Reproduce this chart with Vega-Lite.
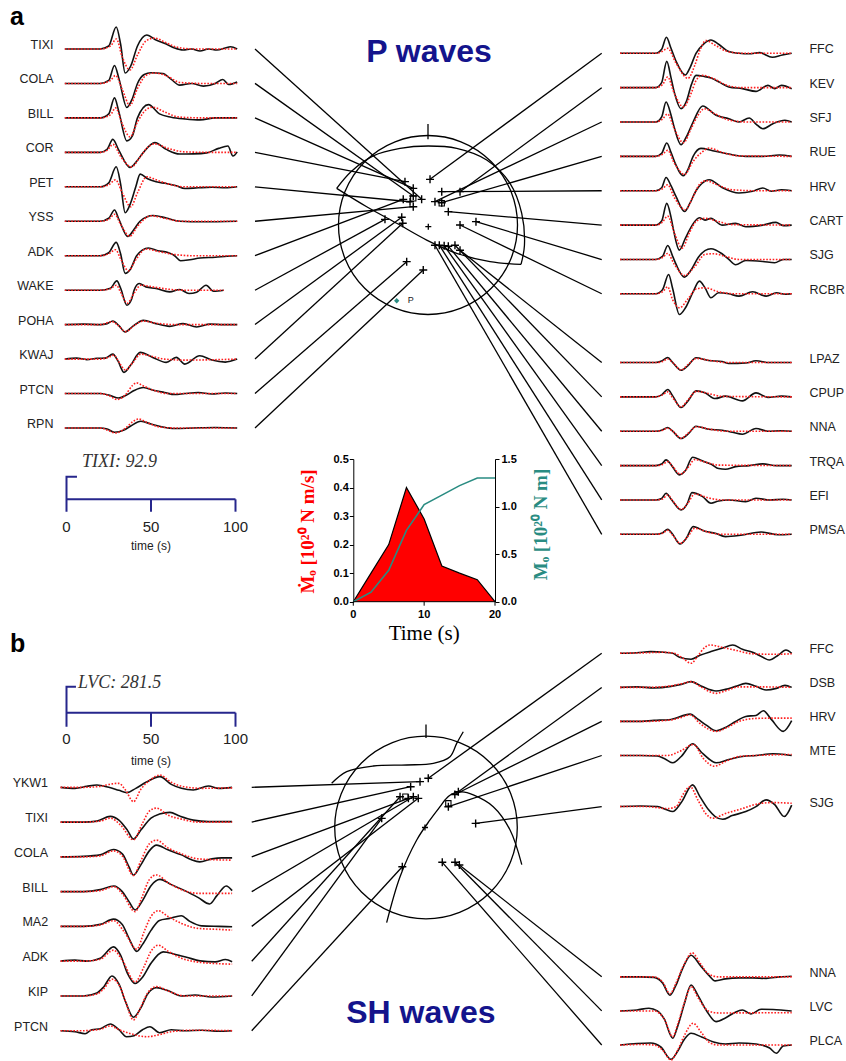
{
"$schema":"https://vega.github.io/schema/vega-lite/v6.json",
"width":846,"height":1061,"padding":0,"autosize":{"type":"none"},"background":"#ffffff",
"config":{"view":{"stroke":null},"axis":{"grid":false}},
"datasets":{
"aLo":[
{"s":"TIXI","t":-1,"a":0},{"s":"TIXI","t":20,"a":0},{"s":"TIXI","t":25,"a":0.3},{"s":"TIXI","t":29.4,"a":2.2},{"s":"TIXI","t":32,"a":0.5},{"s":"TIXI","t":34.7,"a":-2.4},{"s":"TIXI","t":38,"a":-1.7},{"s":"TIXI","t":42,"a":0.3},{"s":"TIXI","t":47.5,"a":1.4},{"s":"TIXI","t":53,"a":0.9},{"s":"TIXI","t":59,"a":0.5},{"s":"TIXI","t":64,"a":0.1},{"s":"TIXI","t":69,"a":-0.1},{"s":"TIXI","t":74,"a":0},{"s":"TIXI","t":79,"a":-0.2},{"s":"TIXI","t":84,"a":0},{"s":"TIXI","t":89,"a":-0.1},{"s":"TIXI","t":94,"a":0.1},{"s":"TIXI","t":97,"a":0.23},{"s":"TIXI","t":101,"a":0},
{"s":"COLA","t":-1,"a":0},{"s":"COLA","t":20,"a":0},{"s":"COLA","t":25,"a":0.3},{"s":"COLA","t":28.4,"a":1.8},{"s":"COLA","t":31,"a":0.5},{"s":"COLA","t":35.7,"a":-2.4},{"s":"COLA","t":39,"a":-1.5},{"s":"COLA","t":42,"a":0},{"s":"COLA","t":46,"a":0.9},{"s":"COLA","t":50,"a":1.07},{"s":"COLA","t":57,"a":1.0},{"s":"COLA","t":62,"a":0.4},{"s":"COLA","t":67,"a":-0.17},{"s":"COLA","t":74,"a":0},{"s":"COLA","t":81,"a":-0.27},{"s":"COLA","t":88,"a":0},{"s":"COLA","t":92.5,"a":0.4},{"s":"COLA","t":96,"a":-0.1},{"s":"COLA","t":101,"a":0.15},
{"s":"BILL","t":-1,"a":0},{"s":"BILL","t":20,"a":0},{"s":"BILL","t":25,"a":0.4},{"s":"BILL","t":28.4,"a":2.0},{"s":"BILL","t":31,"a":0.6},{"s":"BILL","t":35.7,"a":-2.3},{"s":"BILL","t":39,"a":-1.8},{"s":"BILL","t":42,"a":0},{"s":"BILL","t":48.5,"a":1.33},{"s":"BILL","t":55,"a":0.4},{"s":"BILL","t":62,"a":0.07},{"s":"BILL","t":70,"a":-0.1},{"s":"BILL","t":79,"a":-0.2},{"s":"BILL","t":88,"a":0},{"s":"BILL","t":101,"a":0},
{"s":"COR","t":-1,"a":0},{"s":"COR","t":20,"a":0},{"s":"COR","t":24,"a":0.3},{"s":"COR","t":27.4,"a":1.3},{"s":"COR","t":31,"a":0.2},{"s":"COR","t":37.6,"a":-1.5},{"s":"COR","t":41,"a":-1.0},{"s":"COR","t":45.5,"a":0},{"s":"COR","t":52.3,"a":0.97},{"s":"COR","t":59,"a":0.3},{"s":"COR","t":67,"a":-0.17},{"s":"COR","t":75,"a":-0.15},{"s":"COR","t":83,"a":-0.05},{"s":"COR","t":90,"a":0.4},{"s":"COR","t":95.5,"a":0.63},{"s":"COR","t":98.5,"a":-0.37},{"s":"COR","t":101,"a":0.05},
{"s":"PET","t":-1,"a":0},{"s":"PET","t":20,"a":0},{"s":"PET","t":25,"a":0.4},{"s":"PET","t":29.4,"a":2.0},{"s":"PET","t":32,"a":0.3},{"s":"PET","t":34.7,"a":-2.6},{"s":"PET","t":38,"a":-1.6},{"s":"PET","t":41,"a":0},{"s":"PET","t":43.6,"a":1.27},{"s":"PET","t":48,"a":0.8},{"s":"PET","t":53,"a":0.5},{"s":"PET","t":59,"a":0.33},{"s":"PET","t":65,"a":0.1},{"s":"PET","t":70,"a":-0.17},{"s":"PET","t":78,"a":-0.1},{"s":"PET","t":86,"a":-0.05},{"s":"PET","t":94,"a":-0.1},{"s":"PET","t":101,"a":0},
{"s":"YSS","t":-1,"a":0},{"s":"YSS","t":20,"a":0},{"s":"YSS","t":25,"a":0.3},{"s":"YSS","t":28.4,"a":1.13},{"s":"YSS","t":31,"a":0.2},{"s":"YSS","t":36.3,"a":-1.53},{"s":"YSS","t":40,"a":-0.8},{"s":"YSS","t":43.5,"a":0},{"s":"YSS","t":51.3,"a":0.57},{"s":"YSS","t":59,"a":0.33},{"s":"YSS","t":67,"a":0},{"s":"YSS","t":80,"a":-0.05},{"s":"YSS","t":101,"a":0},
{"s":"ADK","t":-1,"a":0},{"s":"ADK","t":20,"a":0},{"s":"ADK","t":25,"a":0.3},{"s":"ADK","t":29.4,"a":1.33},{"s":"ADK","t":32,"a":0.2},{"s":"ADK","t":34.7,"a":-1.77},{"s":"ADK","t":38,"a":-1.3},{"s":"ADK","t":41.5,"a":0},{"s":"ADK","t":48.5,"a":0.77},{"s":"ADK","t":54,"a":0.5},{"s":"ADK","t":60,"a":0.33},{"s":"ADK","t":64,"a":0},{"s":"ADK","t":67.5,"a":-0.5},{"s":"ADK","t":73,"a":-0.4},{"s":"ADK","t":79,"a":-0.23},{"s":"ADK","t":88,"a":-0.15},{"s":"ADK","t":95,"a":-0.05},{"s":"ADK","t":101,"a":0},
{"s":"WAKE","t":-1,"a":0},{"s":"WAKE","t":20,"a":0},{"s":"WAKE","t":26,"a":0.2},{"s":"WAKE","t":29.8,"a":0.93},{"s":"WAKE","t":32,"a":0.2},{"s":"WAKE","t":35.7,"a":-1.5},{"s":"WAKE","t":38.5,"a":-0.9},{"s":"WAKE","t":40,"a":0},{"s":"WAKE","t":43,"a":0.67},{"s":"WAKE","t":47,"a":0.33},{"s":"WAKE","t":53,"a":0.17},{"s":"WAKE","t":61,"a":-0.17},{"s":"WAKE","t":67,"a":0.07},{"s":"WAKE","t":72.5,"a":-0.33},{"s":"WAKE","t":77,"a":-0.2},{"s":"WAKE","t":82.6,"a":0.5},{"s":"WAKE","t":87,"a":-0.1},{"s":"WAKE","t":93,"a":0},
{"s":"POHA","t":-1,"a":0},{"s":"POHA","t":10,"a":0.05},{"s":"POHA","t":20,"a":0},{"s":"POHA","t":24,"a":0.1},{"s":"POHA","t":27.4,"a":0.37},{"s":"POHA","t":31,"a":-0.1},{"s":"POHA","t":34.7,"a":-0.73},{"s":"POHA","t":39,"a":-0.2},{"s":"POHA","t":45.5,"a":0.43},{"s":"POHA","t":53,"a":0.1},{"s":"POHA","t":61,"a":-0.17},{"s":"POHA","t":69,"a":0.1},{"s":"POHA","t":77,"a":-0.23},{"s":"POHA","t":85,"a":0.05},{"s":"POHA","t":93,"a":0},{"s":"POHA","t":101,"a":0},
{"s":"KWAJ","t":-1,"a":0},{"s":"KWAJ","t":6,"a":0.1},{"s":"KWAJ","t":12,"a":-0.05},{"s":"KWAJ","t":18,"a":0.08},{"s":"KWAJ","t":23,"a":0.1},{"s":"KWAJ","t":27.4,"a":0.5},{"s":"KWAJ","t":30.5,"a":-0.2},{"s":"KWAJ","t":34,"a":-1.33},{"s":"KWAJ","t":38,"a":-0.6},{"s":"KWAJ","t":43.6,"a":0.67},{"s":"KWAJ","t":51,"a":0.17},{"s":"KWAJ","t":59,"a":-0.33},{"s":"KWAJ","t":65,"a":0.17},{"s":"KWAJ","t":70,"a":-0.5},{"s":"KWAJ","t":78.8,"a":0.33},{"s":"KWAJ","t":86,"a":-0.1},{"s":"KWAJ","t":94,"a":-0.3},{"s":"KWAJ","t":101,"a":0},
{"s":"PTCN","t":-1,"a":0},{"s":"PTCN","t":20,"a":0},{"s":"PTCN","t":26,"a":-0.2},{"s":"PTCN","t":30.8,"a":-0.45},{"s":"PTCN","t":36,"a":-0.1},{"s":"PTCN","t":40,"a":0.3},{"s":"PTCN","t":45.5,"a":0.6},{"s":"PTCN","t":52,"a":0.3},{"s":"PTCN","t":58,"a":0.1},{"s":"PTCN","t":64,"a":-0.1},{"s":"PTCN","t":70,"a":0},{"s":"PTCN","t":78,"a":0.1},{"s":"PTCN","t":86,"a":-0.05},{"s":"PTCN","t":94,"a":0.05},{"s":"PTCN","t":101,"a":0},
{"s":"RPN","t":-1,"a":0},{"s":"RPN","t":20,"a":0},{"s":"RPN","t":24,"a":-0.1},{"s":"RPN","t":28.4,"a":-0.43},{"s":"RPN","t":34,"a":-0.2},{"s":"RPN","t":38,"a":0.2},{"s":"RPN","t":44,"a":0.67},{"s":"RPN","t":50,"a":0.4},{"s":"RPN","t":57,"a":0.1},{"s":"RPN","t":64,"a":-0.05},{"s":"RPN","t":75,"a":0},{"s":"RPN","t":88,"a":0.05},{"s":"RPN","t":101,"a":0}
],
"aLs":[
{"s":"TIXI","t":-1,"a":0},{"s":"TIXI","t":20,"a":0},{"s":"TIXI","t":26,"a":0.3},{"s":"TIXI","t":29.5,"a":1.0},{"s":"TIXI","t":33,"a":-0.8},{"s":"TIXI","t":37.6,"a":-2.1},{"s":"TIXI","t":42,"a":-0.6},{"s":"TIXI","t":47,"a":0.8},{"s":"TIXI","t":52,"a":1.1},{"s":"TIXI","t":58,"a":0.7},{"s":"TIXI","t":65,"a":0.2},{"s":"TIXI","t":75,"a":0},{"s":"TIXI","t":101,"a":0},
{"s":"COLA","t":-1,"a":0},{"s":"COLA","t":20,"a":0},{"s":"COLA","t":26,"a":0.3},{"s":"COLA","t":29,"a":0.8},{"s":"COLA","t":33,"a":-0.6},{"s":"COLA","t":37.5,"a":-2.2},{"s":"COLA","t":42,"a":-0.5},{"s":"COLA","t":47,"a":0.8},{"s":"COLA","t":52,"a":1.05},{"s":"COLA","t":60,"a":0.7},{"s":"COLA","t":67,"a":0.1},{"s":"COLA","t":80,"a":0},{"s":"COLA","t":101,"a":0},
{"s":"BILL","t":-1,"a":0},{"s":"BILL","t":20,"a":0},{"s":"BILL","t":26,"a":0.3},{"s":"BILL","t":29,"a":1.0},{"s":"BILL","t":33,"a":-0.6},{"s":"BILL","t":37.6,"a":-1.9},{"s":"BILL","t":42,"a":-0.4},{"s":"BILL","t":47,"a":0.8},{"s":"BILL","t":51,"a":1.07},{"s":"BILL","t":58,"a":0.6},{"s":"BILL","t":66,"a":0.1},{"s":"BILL","t":80,"a":0},{"s":"BILL","t":101,"a":0},
{"s":"COR","t":-1,"a":0},{"s":"COR","t":20,"a":0},{"s":"COR","t":24,"a":0.2},{"s":"COR","t":27.5,"a":0.8},{"s":"COR","t":32,"a":-0.4},{"s":"COR","t":38.5,"a":-1.45},{"s":"COR","t":43,"a":-0.6},{"s":"COR","t":48,"a":0.5},{"s":"COR","t":52,"a":0.85},{"s":"COR","t":60,"a":0.4},{"s":"COR","t":70,"a":0.05},{"s":"COR","t":85,"a":0},{"s":"COR","t":101,"a":0},
{"s":"PET","t":-1,"a":0},{"s":"PET","t":20,"a":0},{"s":"PET","t":25,"a":0.2},{"s":"PET","t":29,"a":0.7},{"s":"PET","t":33,"a":-0.6},{"s":"PET","t":38,"a":-2.0},{"s":"PET","t":42,"a":-0.6},{"s":"PET","t":47.5,"a":1.0},{"s":"PET","t":53,"a":0.7},{"s":"PET","t":60,"a":0.3},{"s":"PET","t":70,"a":0},{"s":"PET","t":101,"a":0},
{"s":"YSS","t":-1,"a":0},{"s":"YSS","t":20,"a":0},{"s":"YSS","t":25,"a":0.2},{"s":"YSS","t":28.5,"a":0.7},{"s":"YSS","t":32,"a":-0.3},{"s":"YSS","t":37.5,"a":-1.5},{"s":"YSS","t":42,"a":-0.5},{"s":"YSS","t":50,"a":0.55},{"s":"YSS","t":58,"a":0.3},{"s":"YSS","t":68,"a":0},{"s":"YSS","t":101,"a":0},
{"s":"ADK","t":-1,"a":0},{"s":"ADK","t":20,"a":0},{"s":"ADK","t":25,"a":0.2},{"s":"ADK","t":29,"a":0.6},{"s":"ADK","t":32,"a":-0.3},{"s":"ADK","t":36.6,"a":-1.5},{"s":"ADK","t":41,"a":-0.4},{"s":"ADK","t":47,"a":0.67},{"s":"ADK","t":55,"a":0.4},{"s":"ADK","t":65,"a":0.1},{"s":"ADK","t":75,"a":0},{"s":"ADK","t":101,"a":0},
{"s":"WAKE","t":-1,"a":0},{"s":"WAKE","t":20,"a":0},{"s":"WAKE","t":26,"a":0.15},{"s":"WAKE","t":29.5,"a":0.5},{"s":"WAKE","t":32,"a":-0.2},{"s":"WAKE","t":36,"a":-1.3},{"s":"WAKE","t":40,"a":-0.3},{"s":"WAKE","t":44,"a":0.5},{"s":"WAKE","t":52,"a":0.3},{"s":"WAKE","t":60,"a":0.1},{"s":"WAKE","t":70,"a":0},{"s":"WAKE","t":93,"a":0},
{"s":"POHA","t":-1,"a":0},{"s":"POHA","t":20,"a":0},{"s":"POHA","t":27,"a":0.3},{"s":"POHA","t":30,"a":0},{"s":"POHA","t":35,"a":-0.7},{"s":"POHA","t":40,"a":-0.1},{"s":"POHA","t":45,"a":0.35},{"s":"POHA","t":55,"a":0.1},{"s":"POHA","t":65,"a":0},{"s":"POHA","t":101,"a":0},
{"s":"KWAJ","t":-1,"a":0},{"s":"KWAJ","t":20,"a":0},{"s":"KWAJ","t":25,"a":0.2},{"s":"KWAJ","t":28,"a":0.4},{"s":"KWAJ","t":31,"a":-0.3},{"s":"KWAJ","t":35,"a":-1.1},{"s":"KWAJ","t":39,"a":-0.4},{"s":"KWAJ","t":44,"a":0.5},{"s":"KWAJ","t":50,"a":0.3},{"s":"KWAJ","t":58,"a":0},{"s":"KWAJ","t":70,"a":-0.1},{"s":"KWAJ","t":101,"a":0},
{"s":"PTCN","t":-1,"a":0},{"s":"PTCN","t":20,"a":0},{"s":"PTCN","t":25,"a":-0.2},{"s":"PTCN","t":30,"a":-0.6},{"s":"PTCN","t":35,"a":-0.1},{"s":"PTCN","t":39,"a":0.8},{"s":"PTCN","t":41.5,"a":1.07},{"s":"PTCN","t":45,"a":0.8},{"s":"PTCN","t":52,"a":0.3},{"s":"PTCN","t":60,"a":0},{"s":"PTCN","t":101,"a":0},
{"s":"RPN","t":-1,"a":0},{"s":"RPN","t":20,"a":0},{"s":"RPN","t":24,"a":-0.2},{"s":"RPN","t":29,"a":-0.5},{"s":"RPN","t":35,"a":0},{"s":"RPN","t":39,"a":0.6},{"s":"RPN","t":42.6,"a":0.9},{"s":"RPN","t":47,"a":0.6},{"s":"RPN","t":55,"a":0.1},{"s":"RPN","t":65,"a":0},{"s":"RPN","t":101,"a":0}
],
"aRo":[
{"s":"FFC","t":0,"a":0},{"s":"FFC","t":21,"a":0},{"s":"FFC","t":24.5,"a":0.4},{"s":"FFC","t":27.3,"a":1.6},{"s":"FFC","t":30,"a":0.5},{"s":"FFC","t":33,"a":-0.8},{"s":"FFC","t":38.4,"a":-2.17},{"s":"FFC","t":41,"a":-1.5},{"s":"FFC","t":44.7,"a":0},{"s":"FFC","t":49,"a":0.9},{"s":"FFC","t":53.5,"a":1.33},{"s":"FFC","t":58,"a":0.9},{"s":"FFC","t":64,"a":0.17},{"s":"FFC","t":70,"a":0},{"s":"FFC","t":76,"a":-0.05},{"s":"FFC","t":82,"a":0.07},{"s":"FFC","t":89.6,"a":-0.4},{"s":"FFC","t":95.5,"a":-0.17},{"s":"FFC","t":101,"a":0},
{"s":"KEV","t":0,"a":0},{"s":"KEV","t":21,"a":0},{"s":"KEV","t":24.5,"a":0.5},{"s":"KEV","t":27.5,"a":2.63},{"s":"KEV","t":30,"a":1.0},{"s":"KEV","t":32,"a":-0.5},{"s":"KEV","t":35.9,"a":-2.1},{"s":"KEV","t":39,"a":-1.4},{"s":"KEV","t":42,"a":0.3},{"s":"KEV","t":44.7,"a":1.23},{"s":"KEV","t":50,"a":1.1},{"s":"KEV","t":53.5,"a":0.97},{"s":"KEV","t":59,"a":0.5},{"s":"KEV","t":64,"a":0.07},{"s":"KEV","t":72,"a":-0.1},{"s":"KEV","t":80,"a":-0.37},{"s":"KEV","t":87,"a":0.23},{"s":"KEV","t":91,"a":-0.1},{"s":"KEV","t":95,"a":0.23},{"s":"KEV","t":101,"a":-0.1},
{"s":"SFJ","t":0,"a":0},{"s":"SFJ","t":21,"a":0},{"s":"SFJ","t":24.5,"a":0.5},{"s":"SFJ","t":27.1,"a":2.0},{"s":"SFJ","t":30,"a":0.7},{"s":"SFJ","t":32,"a":-0.6},{"s":"SFJ","t":35.9,"a":-2.27},{"s":"SFJ","t":39,"a":-1.5},{"s":"SFJ","t":43,"a":0},{"s":"SFJ","t":48.6,"a":1.6},{"s":"SFJ","t":56.5,"a":0.67},{"s":"SFJ","t":64,"a":0.33},{"s":"SFJ","t":70,"a":0},{"s":"SFJ","t":76,"a":0.4},{"s":"SFJ","t":80,"a":-0.2},{"s":"SFJ","t":84,"a":-0.67},{"s":"SFJ","t":90,"a":-0.17},{"s":"SFJ","t":97,"a":0.17},{"s":"SFJ","t":101,"a":0},
{"s":"RUE","t":0,"a":0},{"s":"RUE","t":21,"a":0},{"s":"RUE","t":24.5,"a":0.3},{"s":"RUE","t":27.5,"a":1.33},{"s":"RUE","t":30,"a":0.4},{"s":"RUE","t":32,"a":-0.5},{"s":"RUE","t":37.3,"a":-1.93},{"s":"RUE","t":40,"a":-1.3},{"s":"RUE","t":43,"a":0},{"s":"RUE","t":47.6,"a":0.8},{"s":"RUE","t":54.5,"a":0.57},{"s":"RUE","t":64,"a":0.23},{"s":"RUE","t":74,"a":0},{"s":"RUE","t":84,"a":0},{"s":"RUE","t":93.7,"a":0.13},{"s":"RUE","t":101,"a":0},
{"s":"HRV","t":0,"a":0},{"s":"HRV","t":21,"a":0},{"s":"HRV","t":24.5,"a":0.3},{"s":"HRV","t":27.1,"a":1.33},{"s":"HRV","t":30,"a":0.5},{"s":"HRV","t":33,"a":-0.6},{"s":"HRV","t":38,"a":-2.07},{"s":"HRV","t":41,"a":-1.3},{"s":"HRV","t":44.7,"a":0},{"s":"HRV","t":48,"a":0.7},{"s":"HRV","t":52.5,"a":1.1},{"s":"HRV","t":60,"a":0.33},{"s":"HRV","t":70,"a":-0.23},{"s":"HRV","t":78,"a":-0.05},{"s":"HRV","t":84,"a":0.27},{"s":"HRV","t":89,"a":-0.05},{"s":"HRV","t":95,"a":0.1},{"s":"HRV","t":101,"a":0},
{"s":"CART","t":0,"a":0},{"s":"CART","t":21,"a":0},{"s":"CART","t":24.5,"a":0.4},{"s":"CART","t":27.5,"a":2.17},{"s":"CART","t":30,"a":0.8},{"s":"CART","t":31.5,"a":-0.5},{"s":"CART","t":34.9,"a":-2.5},{"s":"CART","t":38.5,"a":-1.3},{"s":"CART","t":42.5,"a":0},{"s":"CART","t":46.7,"a":0.73},{"s":"CART","t":50,"a":0.5},{"s":"CART","t":53.5,"a":0.67},{"s":"CART","t":60,"a":0},{"s":"CART","t":68,"a":0.17},{"s":"CART","t":74,"a":-0.17},{"s":"CART","t":84,"a":0},{"s":"CART","t":91.7,"a":0.27},{"s":"CART","t":96,"a":-0.05},{"s":"CART","t":101,"a":0},
{"s":"SJG","t":0,"a":0},{"s":"SJG","t":21,"a":0},{"s":"SJG","t":25,"a":0.3},{"s":"SJG","t":28.1,"a":1.4},{"s":"SJG","t":31,"a":0.3},{"s":"SJG","t":33,"a":-0.5},{"s":"SJG","t":37.8,"a":-1.77},{"s":"SJG","t":42,"a":-1.0},{"s":"SJG","t":46,"a":0.2},{"s":"SJG","t":53.5,"a":1.07},{"s":"SJG","t":60,"a":0.57},{"s":"SJG","t":64,"a":0},{"s":"SJG","t":68,"a":-0.53},{"s":"SJG","t":74,"a":-0.1},{"s":"SJG","t":84,"a":-0.2},{"s":"SJG","t":91,"a":-0.33},{"s":"SJG","t":96,"a":0},{"s":"SJG","t":101,"a":0},
{"s":"RCBR","t":0,"a":0},{"s":"RCBR","t":21,"a":0},{"s":"RCBR","t":25,"a":0.4},{"s":"RCBR","t":28.6,"a":1.93},{"s":"RCBR","t":31,"a":0.5},{"s":"RCBR","t":34.9,"a":-2.07},{"s":"RCBR","t":38.5,"a":-1.4},{"s":"RCBR","t":43,"a":0.2},{"s":"RCBR","t":46.7,"a":1.27},{"s":"RCBR","t":50,"a":0.6},{"s":"RCBR","t":53.5,"a":-0.4},{"s":"RCBR","t":58,"a":0.1},{"s":"RCBR","t":64,"a":0},{"s":"RCBR","t":70,"a":-0.23},{"s":"RCBR","t":78,"a":0.2},{"s":"RCBR","t":86,"a":-0.23},{"s":"RCBR","t":92,"a":0.1},{"s":"RCBR","t":97,"a":-0.05},{"s":"RCBR","t":101,"a":0},
{"s":"LPAZ","t":0,"a":0},{"s":"LPAZ","t":21,"a":0},{"s":"LPAZ","t":24.5,"a":0.15},{"s":"LPAZ","t":28.1,"a":0.5},{"s":"LPAZ","t":31,"a":0},{"s":"LPAZ","t":35.9,"a":-0.77},{"s":"LPAZ","t":40,"a":-0.3},{"s":"LPAZ","t":44.7,"a":0.47},{"s":"LPAZ","t":52,"a":0.2},{"s":"LPAZ","t":60,"a":0.1},{"s":"LPAZ","t":64,"a":-0.1},{"s":"LPAZ","t":74,"a":-0.05},{"s":"LPAZ","t":80,"a":0.17},{"s":"LPAZ","t":88,"a":0},{"s":"LPAZ","t":101,"a":0},
{"s":"CPUP","t":0,"a":0},{"s":"CPUP","t":21,"a":0},{"s":"CPUP","t":24.5,"a":0.2},{"s":"CPUP","t":28.1,"a":0.73},{"s":"CPUP","t":31,"a":0.1},{"s":"CPUP","t":35.9,"a":-1.07},{"s":"CPUP","t":40,"a":-0.4},{"s":"CPUP","t":44.7,"a":0.6},{"s":"CPUP","t":50,"a":0.4},{"s":"CPUP","t":56,"a":-0.17},{"s":"CPUP","t":62,"a":0.07},{"s":"CPUP","t":72,"a":-0.4},{"s":"CPUP","t":80,"a":0.4},{"s":"CPUP","t":87,"a":-0.05},{"s":"CPUP","t":95,"a":0.07},{"s":"CPUP","t":101,"a":0},
{"s":"NNA","t":0,"a":0},{"s":"NNA","t":21,"a":0},{"s":"NNA","t":24.5,"a":0.1},{"s":"NNA","t":28.1,"a":0.37},{"s":"NNA","t":31,"a":0},{"s":"NNA","t":35.9,"a":-0.73},{"s":"NNA","t":40,"a":-0.3},{"s":"NNA","t":44.7,"a":0.5},{"s":"NNA","t":52,"a":0.2},{"s":"NNA","t":60,"a":0.1},{"s":"NNA","t":66,"a":-0.1},{"s":"NNA","t":72,"a":-0.3},{"s":"NNA","t":80,"a":0.27},{"s":"NNA","t":87,"a":0},{"s":"NNA","t":95,"a":0.05},{"s":"NNA","t":101,"a":0},
{"s":"TRQA","t":0,"a":0},{"s":"TRQA","t":21,"a":0},{"s":"TRQA","t":24.5,"a":0.15},{"s":"TRQA","t":27.1,"a":0.57},{"s":"TRQA","t":30,"a":0.1},{"s":"TRQA","t":34.9,"a":-0.93},{"s":"TRQA","t":38.5,"a":-0.5},{"s":"TRQA","t":42.7,"a":0.83},{"s":"TRQA","t":48,"a":0.5},{"s":"TRQA","t":54,"a":0.1},{"s":"TRQA","t":58,"a":-0.3},{"s":"TRQA","t":62,"a":-0.37},{"s":"TRQA","t":68,"a":-0.1},{"s":"TRQA","t":76,"a":0},{"s":"TRQA","t":84,"a":0.17},{"s":"TRQA","t":92,"a":0},{"s":"TRQA","t":101,"a":0},
{"s":"EFI","t":0,"a":0},{"s":"EFI","t":21,"a":0},{"s":"EFI","t":24.5,"a":0.15},{"s":"EFI","t":27.1,"a":0.67},{"s":"EFI","t":30,"a":0.1},{"s":"EFI","t":35.9,"a":-1.0},{"s":"EFI","t":39.5,"a":-0.4},{"s":"EFI","t":42.3,"a":0.73},{"s":"EFI","t":48.6,"a":0.33},{"s":"EFI","t":53.5,"a":-0.33},{"s":"EFI","t":58,"a":-0.1},{"s":"EFI","t":64,"a":0},{"s":"EFI","t":74,"a":-0.17},{"s":"EFI","t":80,"a":0.17},{"s":"EFI","t":88,"a":0},{"s":"EFI","t":96,"a":0.07},{"s":"EFI","t":101,"a":0},
{"s":"PMSA","t":0,"a":0},{"s":"PMSA","t":21,"a":0},{"s":"PMSA","t":24.5,"a":0.1},{"s":"PMSA","t":28.1,"a":0.5},{"s":"PMSA","t":31,"a":0},{"s":"PMSA","t":35.3,"a":-0.97},{"s":"PMSA","t":39,"a":-0.4},{"s":"PMSA","t":43,"a":0.77},{"s":"PMSA","t":50,"a":0.3},{"s":"PMSA","t":56,"a":0.1},{"s":"PMSA","t":62,"a":-0.23},{"s":"PMSA","t":71,"a":-0.1},{"s":"PMSA","t":83,"a":0.23},{"s":"PMSA","t":93,"a":-0.05},{"s":"PMSA","t":101,"a":0}
],
"aRs":[
{"s":"FFC","t":0,"a":0},{"s":"FFC","t":21,"a":0},{"s":"FFC","t":25,"a":0.2},{"s":"FFC","t":28,"a":0.5},{"s":"FFC","t":33,"a":-1.0},{"s":"FFC","t":40,"a":-2.5},{"s":"FFC","t":44,"a":-1.2},{"s":"FFC","t":47,"a":0.3},{"s":"FFC","t":50.6,"a":1.27},{"s":"FFC","t":56,"a":0.8},{"s":"FFC","t":63,"a":0.2},{"s":"FFC","t":72,"a":0},{"s":"FFC","t":101,"a":0},
{"s":"KEV","t":0,"a":0},{"s":"KEV","t":21,"a":0},{"s":"KEV","t":25,"a":0.3},{"s":"KEV","t":28,"a":1.07},{"s":"KEV","t":32,"a":-0.6},{"s":"KEV","t":37.3,"a":-1.93},{"s":"KEV","t":42,"a":-0.5},{"s":"KEV","t":45,"a":0.8},{"s":"KEV","t":48.6,"a":1.23},{"s":"KEV","t":55,"a":0.9},{"s":"KEV","t":62,"a":0.3},{"s":"KEV","t":72,"a":0},{"s":"KEV","t":101,"a":0},
{"s":"SFJ","t":0,"a":0},{"s":"SFJ","t":21,"a":0},{"s":"SFJ","t":25,"a":0.3},{"s":"SFJ","t":28,"a":0.8},{"s":"SFJ","t":32,"a":-0.7},{"s":"SFJ","t":37.3,"a":-2.07},{"s":"SFJ","t":42,"a":-0.6},{"s":"SFJ","t":46,"a":0.7},{"s":"SFJ","t":49.6,"a":1.33},{"s":"SFJ","t":56,"a":0.8},{"s":"SFJ","t":64,"a":0.2},{"s":"SFJ","t":75,"a":0},{"s":"SFJ","t":101,"a":0},
{"s":"RUE","t":0,"a":0},{"s":"RUE","t":21,"a":0},{"s":"RUE","t":25,"a":0.2},{"s":"RUE","t":28,"a":0.6},{"s":"RUE","t":32,"a":-0.7},{"s":"RUE","t":38,"a":-1.8},{"s":"RUE","t":43,"a":-0.5},{"s":"RUE","t":48,"a":0.4},{"s":"RUE","t":52.5,"a":0.83},{"s":"RUE","t":60,"a":0.4},{"s":"RUE","t":70,"a":0.05},{"s":"RUE","t":101,"a":0},
{"s":"HRV","t":0,"a":0},{"s":"HRV","t":21,"a":0},{"s":"HRV","t":25,"a":0.2},{"s":"HRV","t":28,"a":0.6},{"s":"HRV","t":32,"a":-0.7},{"s":"HRV","t":38.5,"a":-1.9},{"s":"HRV","t":43,"a":-0.6},{"s":"HRV","t":47,"a":0.7},{"s":"HRV","t":50.6,"a":1.0},{"s":"HRV","t":57,"a":0.6},{"s":"HRV","t":66,"a":0.1},{"s":"HRV","t":80,"a":0},{"s":"HRV","t":101,"a":0},
{"s":"CART","t":0,"a":0},{"s":"CART","t":21,"a":0},{"s":"CART","t":25,"a":0.3},{"s":"CART","t":28,"a":0.9},{"s":"CART","t":32,"a":-0.8},{"s":"CART","t":36.5,"a":-2.3},{"s":"CART","t":41,"a":-0.7},{"s":"CART","t":45,"a":0.4},{"s":"CART","t":50,"a":0.67},{"s":"CART","t":57,"a":0.4},{"s":"CART","t":66,"a":0.05},{"s":"CART","t":101,"a":0},
{"s":"SJG","t":0,"a":0},{"s":"SJG","t":21,"a":0},{"s":"SJG","t":25,"a":0.2},{"s":"SJG","t":28,"a":0.6},{"s":"SJG","t":32,"a":-0.5},{"s":"SJG","t":38,"a":-1.6},{"s":"SJG","t":44,"a":-0.7},{"s":"SJG","t":50,"a":0.5},{"s":"SJG","t":55,"a":0.57},{"s":"SJG","t":62,"a":0.3},{"s":"SJG","t":70,"a":0},{"s":"SJG","t":101,"a":0},
{"s":"RCBR","t":0,"a":0},{"s":"RCBR","t":21,"a":0},{"s":"RCBR","t":25,"a":0.2},{"s":"RCBR","t":28,"a":0.7},{"s":"RCBR","t":31,"a":-0.6},{"s":"RCBR","t":35,"a":-1.4},{"s":"RCBR","t":40,"a":-0.5},{"s":"RCBR","t":45,"a":0.5},{"s":"RCBR","t":50,"a":0.6},{"s":"RCBR","t":58,"a":0.2},{"s":"RCBR","t":68,"a":0},{"s":"RCBR","t":101,"a":0},
{"s":"LPAZ","t":0,"a":0},{"s":"LPAZ","t":21,"a":0},{"s":"LPAZ","t":25,"a":0.1},{"s":"LPAZ","t":28,"a":0.35},{"s":"LPAZ","t":31,"a":0},{"s":"LPAZ","t":36,"a":-0.75},{"s":"LPAZ","t":40,"a":-0.2},{"s":"LPAZ","t":45,"a":0.4},{"s":"LPAZ","t":53,"a":0.2},{"s":"LPAZ","t":62,"a":0},{"s":"LPAZ","t":101,"a":0},
{"s":"CPUP","t":0,"a":0},{"s":"CPUP","t":21,"a":0},{"s":"CPUP","t":25,"a":0.2},{"s":"CPUP","t":28,"a":0.5},{"s":"CPUP","t":31,"a":-0.1},{"s":"CPUP","t":36,"a":-1.0},{"s":"CPUP","t":40,"a":-0.3},{"s":"CPUP","t":45,"a":0.55},{"s":"CPUP","t":53,"a":0.3},{"s":"CPUP","t":60,"a":0.05},{"s":"CPUP","t":101,"a":0},
{"s":"NNA","t":0,"a":0},{"s":"NNA","t":21,"a":0},{"s":"NNA","t":25,"a":0.1},{"s":"NNA","t":28,"a":0.3},{"s":"NNA","t":31,"a":0},{"s":"NNA","t":36,"a":-0.7},{"s":"NNA","t":40,"a":-0.2},{"s":"NNA","t":45,"a":0.45},{"s":"NNA","t":53,"a":0.2},{"s":"NNA","t":62,"a":0},{"s":"NNA","t":101,"a":0},
{"s":"TRQA","t":0,"a":0},{"s":"TRQA","t":21,"a":0},{"s":"TRQA","t":25,"a":0.1},{"s":"TRQA","t":28,"a":0.4},{"s":"TRQA","t":31,"a":-0.1},{"s":"TRQA","t":35.5,"a":-0.85},{"s":"TRQA","t":40,"a":-0.2},{"s":"TRQA","t":44,"a":0.6},{"s":"TRQA","t":50,"a":0.35},{"s":"TRQA","t":58,"a":0.05},{"s":"TRQA","t":101,"a":0},
{"s":"EFI","t":0,"a":0},{"s":"EFI","t":21,"a":0},{"s":"EFI","t":25,"a":0.1},{"s":"EFI","t":28,"a":0.5},{"s":"EFI","t":31,"a":-0.1},{"s":"EFI","t":36,"a":-0.95},{"s":"EFI","t":40,"a":-0.3},{"s":"EFI","t":44,"a":0.6},{"s":"EFI","t":52,"a":0.2},{"s":"EFI","t":60,"a":0},{"s":"EFI","t":101,"a":0},
{"s":"PMSA","t":0,"a":0},{"s":"PMSA","t":21,"a":0},{"s":"PMSA","t":25,"a":0.1},{"s":"PMSA","t":28,"a":0.4},{"s":"PMSA","t":31,"a":-0.1},{"s":"PMSA","t":35.5,"a":-0.9},{"s":"PMSA","t":40,"a":-0.2},{"s":"PMSA","t":44,"a":0.6},{"s":"PMSA","t":52,"a":0.2},{"s":"PMSA","t":60,"a":0},{"s":"PMSA","t":101,"a":0}
],
"bLo":[
{"s":"YKW1","t":-3.5,"a":0},{"s":"YKW1","t":5,"a":-0.1},{"s":"YKW1","t":12,"a":0.1},{"s":"YKW1","t":18,"a":0.23},{"s":"YKW1","t":25,"a":0},{"s":"YKW1","t":31,"a":-0.3},{"s":"YKW1","t":35.7,"a":-0.53},{"s":"YKW1","t":41,"a":-0.1},{"s":"YKW1","t":47,"a":0.5},{"s":"YKW1","t":55.3,"a":1.07},{"s":"YKW1","t":62,"a":0.3},{"s":"YKW1","t":68,"a":-0.1},{"s":"YKW1","t":75,"a":-0.27},{"s":"YKW1","t":84,"a":0.13},{"s":"YKW1","t":90,"a":-0.1},{"s":"YKW1","t":98,"a":0},
{"s":"TIXI","t":-3.5,"a":0},{"s":"TIXI","t":10,"a":0},{"s":"TIXI","t":18,"a":0.1},{"s":"TIXI","t":25.9,"a":0.57},{"s":"TIXI","t":31,"a":0.2},{"s":"TIXI","t":36,"a":-0.8},{"s":"TIXI","t":39.6,"a":-1.7},{"s":"TIXI","t":44,"a":-0.8},{"s":"TIXI","t":50,"a":0.4},{"s":"TIXI","t":55,"a":0.8},{"s":"TIXI","t":61.2,"a":0.97},{"s":"TIXI","t":67,"a":0.6},{"s":"TIXI","t":75,"a":0.2},{"s":"TIXI","t":84,"a":0.05},{"s":"TIXI","t":98,"a":0.05},
{"s":"COLA","t":-3.5,"a":0},{"s":"COLA","t":10,"a":0.05},{"s":"COLA","t":20,"a":0.2},{"s":"COLA","t":27.8,"a":0.73},{"s":"COLA","t":33,"a":0.3},{"s":"COLA","t":37,"a":-1.0},{"s":"COLA","t":39.6,"a":-1.83},{"s":"COLA","t":44,"a":-0.8},{"s":"COLA","t":49,"a":0.6},{"s":"COLA","t":53.3,"a":1.17},{"s":"COLA","t":60,"a":0.7},{"s":"COLA","t":68,"a":0.2},{"s":"COLA","t":74,"a":-0.3},{"s":"COLA","t":78.8,"a":-0.5},{"s":"COLA","t":86,"a":-0.2},{"s":"COLA","t":92,"a":-0.1},{"s":"COLA","t":98,"a":-0.1},
{"s":"BILL","t":-3.5,"a":0},{"s":"BILL","t":10,"a":0},{"s":"BILL","t":20,"a":0.2},{"s":"BILL","t":28,"a":0.57},{"s":"BILL","t":33,"a":0},{"s":"BILL","t":37,"a":-1.0},{"s":"BILL","t":40.6,"a":-1.83},{"s":"BILL","t":45,"a":-0.9},{"s":"BILL","t":50,"a":0.6},{"s":"BILL","t":55.3,"a":1.23},{"s":"BILL","t":62,"a":0.7},{"s":"BILL","t":70,"a":0.1},{"s":"BILL","t":78,"a":-0.6},{"s":"BILL","t":84.7,"a":-1.23},{"s":"BILL","t":89,"a":-0.4},{"s":"BILL","t":94.5,"a":0.57},{"s":"BILL","t":98,"a":0.1},
{"s":"MA2","t":-3.5,"a":0},{"s":"MA2","t":10,"a":0},{"s":"MA2","t":20,"a":0.2},{"s":"MA2","t":27.8,"a":0.73},{"s":"MA2","t":33,"a":0.2},{"s":"MA2","t":37,"a":-1.2},{"s":"MA2","t":41.6,"a":-2.5},{"s":"MA2","t":45,"a":-1.8},{"s":"MA2","t":50,"a":-0.4},{"s":"MA2","t":55,"a":0.6},{"s":"MA2","t":61,"a":0.8},{"s":"MA2","t":67.9,"a":1.07},{"s":"MA2","t":73,"a":0.5},{"s":"MA2","t":80,"a":0.05},{"s":"MA2","t":90,"a":0},{"s":"MA2","t":98,"a":-0.03},
{"s":"ADK","t":-3.5,"a":0},{"s":"ADK","t":5,"a":0.1},{"s":"ADK","t":12,"a":0},{"s":"ADK","t":20,"a":0.3},{"s":"ADK","t":27.8,"a":1.43},{"s":"ADK","t":32,"a":0.6},{"s":"ADK","t":36,"a":-1.2},{"s":"ADK","t":40.6,"a":-2.23},{"s":"ADK","t":45,"a":-1.6},{"s":"ADK","t":50,"a":-0.2},{"s":"ADK","t":57.2,"a":0.93},{"s":"ADK","t":64,"a":0.7},{"s":"ADK","t":71,"a":0.4},{"s":"ADK","t":79,"a":0.03},{"s":"ADK","t":88,"a":-0.07},{"s":"ADK","t":94,"a":0.17},{"s":"ADK","t":98,"a":-0.05},
{"s":"KIP","t":-3.5,"a":0},{"s":"KIP","t":10,"a":0},{"s":"KIP","t":18,"a":0.3},{"s":"KIP","t":22,"a":0.9},{"s":"KIP","t":26.9,"a":2.0},{"s":"KIP","t":31,"a":1.2},{"s":"KIP","t":35,"a":-0.6},{"s":"KIP","t":39.6,"a":-2.13},{"s":"KIP","t":44,"a":-1.2},{"s":"KIP","t":48,"a":0.2},{"s":"KIP","t":53.3,"a":0.83},{"s":"KIP","t":60,"a":0.53},{"s":"KIP","t":68,"a":0},{"s":"KIP","t":76,"a":0.1},{"s":"KIP","t":86,"a":-0.1},{"s":"KIP","t":98,"a":0},
{"s":"PTCN","t":-3.5,"a":0},{"s":"PTCN","t":5,"a":-0.1},{"s":"PTCN","t":11,"a":-0.3},{"s":"PTCN","t":15,"a":0.1},{"s":"PTCN","t":20,"a":0.2},{"s":"PTCN","t":25.9,"a":0.67},{"s":"PTCN","t":31,"a":0.1},{"s":"PTCN","t":35.5,"a":-0.6},{"s":"PTCN","t":40,"a":-0.5},{"s":"PTCN","t":45,"a":0.1},{"s":"PTCN","t":49.4,"a":0.4},{"s":"PTCN","t":55,"a":-0.2},{"s":"PTCN","t":62,"a":0.1},{"s":"PTCN","t":70,"a":0},{"s":"PTCN","t":80,"a":0.05},{"s":"PTCN","t":90,"a":-0.05},{"s":"PTCN","t":98,"a":0}
],
"bLs":[
{"s":"YKW1","t":-3.5,"a":0},{"s":"YKW1","t":10,"a":0},{"s":"YKW1","t":20,"a":0.1},{"s":"YKW1","t":27,"a":0.35},{"s":"YKW1","t":31,"a":0.4},{"s":"YKW1","t":35,"a":-0.3},{"s":"YKW1","t":39.6,"a":-1.43},{"s":"YKW1","t":44,"a":-0.2},{"s":"YKW1","t":50,"a":0.8},{"s":"YKW1","t":55.3,"a":1.23},{"s":"YKW1","t":62,"a":0.5},{"s":"YKW1","t":70,"a":0.05},{"s":"YKW1","t":80,"a":-0.1},{"s":"YKW1","t":98,"a":-0.05},
{"s":"TIXI","t":-3.5,"a":0},{"s":"TIXI","t":10,"a":0},{"s":"TIXI","t":20,"a":0.1},{"s":"TIXI","t":25.9,"a":0.4},{"s":"TIXI","t":32,"a":-0.3},{"s":"TIXI","t":39.6,"a":-1.77},{"s":"TIXI","t":45,"a":-0.1},{"s":"TIXI","t":49,"a":1.1},{"s":"TIXI","t":53.3,"a":1.4},{"s":"TIXI","t":60,"a":0.7},{"s":"TIXI","t":68,"a":0.3},{"s":"TIXI","t":78,"a":0},{"s":"TIXI","t":98,"a":0},
{"s":"COLA","t":-3.5,"a":0},{"s":"COLA","t":10,"a":0},{"s":"COLA","t":20,"a":0.1},{"s":"COLA","t":27.8,"a":0.6},{"s":"COLA","t":33,"a":0.1},{"s":"COLA","t":39.6,"a":-1.85},{"s":"COLA","t":44,"a":-0.4},{"s":"COLA","t":49,"a":1.3},{"s":"COLA","t":53.3,"a":1.67},{"s":"COLA","t":60,"a":0.9},{"s":"COLA","t":68,"a":0.3},{"s":"COLA","t":78,"a":-0.2},{"s":"COLA","t":98,"a":-0.33},
{"s":"BILL","t":-3.5,"a":0},{"s":"BILL","t":10,"a":0},{"s":"BILL","t":20,"a":0.1},{"s":"BILL","t":28,"a":0.5},{"s":"BILL","t":33,"a":-0.2},{"s":"BILL","t":40.6,"a":-2.0},{"s":"BILL","t":45,"a":-0.4},{"s":"BILL","t":49,"a":1.2},{"s":"BILL","t":53.3,"a":1.67},{"s":"BILL","t":60,"a":0.9},{"s":"BILL","t":68,"a":0.2},{"s":"BILL","t":78,"a":-0.17},{"s":"BILL","t":98,"a":-0.17},
{"s":"MA2","t":-3.5,"a":0},{"s":"MA2","t":10,"a":0},{"s":"MA2","t":20,"a":0.15},{"s":"MA2","t":28,"a":0.57},{"s":"MA2","t":34,"a":-0.5},{"s":"MA2","t":41.6,"a":-2.27},{"s":"MA2","t":46,"a":-0.5},{"s":"MA2","t":50,"a":1.0},{"s":"MA2","t":54.3,"a":1.57},{"s":"MA2","t":60,"a":1.0},{"s":"MA2","t":68,"a":0.3},{"s":"MA2","t":78,"a":-0.2},{"s":"MA2","t":90,"a":-0.3},{"s":"MA2","t":98,"a":-0.37},
{"s":"ADK","t":-3.5,"a":0},{"s":"ADK","t":10,"a":0},{"s":"ADK","t":20,"a":0.2},{"s":"ADK","t":27.8,"a":1.1},{"s":"ADK","t":33,"a":0.1},{"s":"ADK","t":40.6,"a":-2.07},{"s":"ADK","t":46,"a":-0.5},{"s":"ADK","t":50,"a":1.0},{"s":"ADK","t":54.3,"a":1.6},{"s":"ADK","t":60,"a":1.0},{"s":"ADK","t":68,"a":0.3},{"s":"ADK","t":78,"a":-0.1},{"s":"ADK","t":90,"a":-0.25},{"s":"ADK","t":98,"a":-0.3},
{"s":"KIP","t":-3.5,"a":0},{"s":"KIP","t":10,"a":0},{"s":"KIP","t":18,"a":0.2},{"s":"KIP","t":22,"a":0.7},{"s":"KIP","t":27,"a":1.67},{"s":"KIP","t":32,"a":0.8},{"s":"KIP","t":35,"a":-0.6},{"s":"KIP","t":39.6,"a":-2.4},{"s":"KIP","t":44,"a":-1.1},{"s":"KIP","t":48,"a":0.3},{"s":"KIP","t":53.3,"a":0.93},{"s":"KIP","t":60,"a":0.5},{"s":"KIP","t":70,"a":0},{"s":"KIP","t":98,"a":0},
{"s":"PTCN","t":-3.5,"a":0},{"s":"PTCN","t":10,"a":0},{"s":"PTCN","t":20,"a":0.15},{"s":"PTCN","t":25.9,"a":0.47},{"s":"PTCN","t":31,"a":0.1},{"s":"PTCN","t":38,"a":-0.3},{"s":"PTCN","t":47.5,"a":-0.6},{"s":"PTCN","t":55,"a":-0.4},{"s":"PTCN","t":62,"a":-0.1},{"s":"PTCN","t":75,"a":0.05},{"s":"PTCN","t":98,"a":0}
],
"bRo":[
{"s":"FFC","t":0,"a":0},{"s":"FFC","t":10,"a":0.05},{"s":"FFC","t":18,"a":0.17},{"s":"FFC","t":26,"a":0.1},{"s":"FFC","t":31,"a":0},{"s":"FFC","t":35,"a":-0.4},{"s":"FFC","t":41.8,"a":-0.6},{"s":"FFC","t":47,"a":-0.2},{"s":"FFC","t":54,"a":0.2},{"s":"FFC","t":60,"a":0.5},{"s":"FFC","t":66.3,"a":0.83},{"s":"FFC","t":72,"a":0.4},{"s":"FFC","t":78,"a":0.1},{"s":"FFC","t":84,"a":-0.4},{"s":"FFC","t":87.8,"a":-0.67},{"s":"FFC","t":93,"a":-0.2},{"s":"FFC","t":97.6,"a":0.33},{"s":"FFC","t":101,"a":0},
{"s":"DSB","t":0,"a":0},{"s":"DSB","t":10,"a":0.05},{"s":"DSB","t":20,"a":-0.05},{"s":"DSB","t":30,"a":0.1},{"s":"DSB","t":36,"a":0.3},{"s":"DSB","t":41.8,"a":0.57},{"s":"DSB","t":48,"a":0.1},{"s":"DSB","t":56.5,"a":-0.37},{"s":"DSB","t":62,"a":-0.2},{"s":"DSB","t":68,"a":0.1},{"s":"DSB","t":74,"a":0.4},{"s":"DSB","t":80,"a":0.1},{"s":"DSB","t":86,"a":-0.27},{"s":"DSB","t":92,"a":-0.1},{"s":"DSB","t":97,"a":0.2},{"s":"DSB","t":101,"a":0},
{"s":"HRV","t":0,"a":0},{"s":"HRV","t":10,"a":0},{"s":"HRV","t":20,"a":0.1},{"s":"HRV","t":30,"a":0.2},{"s":"HRV","t":41.2,"a":0.73},{"s":"HRV","t":46,"a":0.2},{"s":"HRV","t":51,"a":-0.4},{"s":"HRV","t":56.5,"a":-0.93},{"s":"HRV","t":62,"a":-0.6},{"s":"HRV","t":68,"a":0},{"s":"HRV","t":74,"a":0.5},{"s":"HRV","t":80,"a":0.6},{"s":"HRV","t":84.3,"a":1.07},{"s":"HRV","t":89,"a":0.2},{"s":"HRV","t":96,"a":-1.0},{"s":"HRV","t":101,"a":0.07},
{"s":"MTE","t":0,"a":0},{"s":"MTE","t":12,"a":0},{"s":"MTE","t":22,"a":-0.05},{"s":"MTE","t":26,"a":-0.3},{"s":"MTE","t":31,"a":-0.73},{"s":"MTE","t":36,"a":-0.1},{"s":"MTE","t":42.7,"a":1.17},{"s":"MTE","t":48,"a":0.3},{"s":"MTE","t":52,"a":-0.3},{"s":"MTE","t":56.5,"a":-0.73},{"s":"MTE","t":64,"a":-0.4},{"s":"MTE","t":72,"a":-0.1},{"s":"MTE","t":80,"a":0},{"s":"MTE","t":90,"a":0.17},{"s":"MTE","t":97,"a":0.1},{"s":"MTE","t":101,"a":0},
{"s":"SJG","t":0,"a":0},{"s":"SJG","t":12,"a":0.05},{"s":"SJG","t":22,"a":0},{"s":"SJG","t":27,"a":-0.3},{"s":"SJG","t":31,"a":-0.5},{"s":"SJG","t":36,"a":0.4},{"s":"SJG","t":42.7,"a":2.17},{"s":"SJG","t":47,"a":1.0},{"s":"SJG","t":52,"a":-0.3},{"s":"SJG","t":56,"a":-1.0},{"s":"SJG","t":60.4,"a":-1.27},{"s":"SJG","t":66,"a":-0.9},{"s":"SJG","t":74,"a":-0.5},{"s":"SJG","t":80,"a":0},{"s":"SJG","t":85.9,"a":0.67},{"s":"SJG","t":91,"a":0.2},{"s":"SJG","t":96.6,"a":-1.0},{"s":"SJG","t":101,"a":0.15},
{"s":"NNA","t":0,"a":0},{"s":"NNA","t":12,"a":0},{"s":"NNA","t":20,"a":-0.05},{"s":"NNA","t":25,"a":-0.6},{"s":"NNA","t":29.4,"a":-1.83},{"s":"NNA","t":33,"a":-0.8},{"s":"NNA","t":37,"a":0.9},{"s":"NNA","t":41.8,"a":2.17},{"s":"NNA","t":47,"a":1.2},{"s":"NNA","t":52,"a":0.2},{"s":"NNA","t":56,"a":-0.4},{"s":"NNA","t":62,"a":-0.2},{"s":"NNA","t":70,"a":-0.1},{"s":"NNA","t":78,"a":-0.1},{"s":"NNA","t":86,"a":-0.15},{"s":"NNA","t":94,"a":0},{"s":"NNA","t":101,"a":0.07},
{"s":"LVC","t":0,"a":0},{"s":"LVC","t":10,"a":0.1},{"s":"LVC","t":17,"a":0.27},{"s":"LVC","t":22,"a":0},{"s":"LVC","t":26,"a":-0.8},{"s":"LVC","t":31,"a":-2.73},{"s":"LVC","t":34,"a":-1.5},{"s":"LVC","t":38,"a":0.8},{"s":"LVC","t":41.8,"a":2.6},{"s":"LVC","t":46,"a":1.5},{"s":"LVC","t":51,"a":0},{"s":"LVC","t":56.5,"a":-1.07},{"s":"LVC","t":62,"a":-0.7},{"s":"LVC","t":67,"a":-0.2},{"s":"LVC","t":72,"a":0.1},{"s":"LVC","t":77,"a":-0.3},{"s":"LVC","t":83,"a":0.17},{"s":"LVC","t":90,"a":0.15},{"s":"LVC","t":101,"a":0},
{"s":"PLCA","t":0,"a":0},{"s":"PLCA","t":10,"a":0.15},{"s":"PLCA","t":18,"a":0.2},{"s":"PLCA","t":24,"a":-0.2},{"s":"PLCA","t":30,"a":-1.43},{"s":"PLCA","t":34,"a":-0.6},{"s":"PLCA","t":38,"a":0.6},{"s":"PLCA","t":41.8,"a":1.17},{"s":"PLCA","t":48,"a":0.8},{"s":"PLCA","t":55,"a":0.3},{"s":"PLCA","t":62,"a":0.1},{"s":"PLCA","t":70,"a":0.2},{"s":"PLCA","t":80,"a":0.1},{"s":"PLCA","t":88,"a":-0.3},{"s":"PLCA","t":92,"a":-0.83},{"s":"PLCA","t":96,"a":-0.1},{"s":"PLCA","t":101,"a":0}
],
"bRs":[
{"s":"FFC","t":0,"a":0},{"s":"FFC","t":15,"a":0.05},{"s":"FFC","t":25,"a":0.1},{"s":"FFC","t":32,"a":0},{"s":"FFC","t":37,"a":-0.5},{"s":"FFC","t":41.8,"a":-1.0},{"s":"FFC","t":46,"a":-0.2},{"s":"FFC","t":50,"a":0.6},{"s":"FFC","t":53,"a":0.83},{"s":"FFC","t":60,"a":0.6},{"s":"FFC","t":68,"a":0.3},{"s":"FFC","t":78,"a":-0.05},{"s":"FFC","t":90,"a":-0.1},{"s":"FFC","t":101,"a":-0.05},
{"s":"DSB","t":0,"a":0},{"s":"DSB","t":15,"a":0},{"s":"DSB","t":28,"a":0.1},{"s":"DSB","t":36,"a":0.35},{"s":"DSB","t":42,"a":0.57},{"s":"DSB","t":48,"a":0},{"s":"DSB","t":56.5,"a":-0.6},{"s":"DSB","t":63,"a":-0.3},{"s":"DSB","t":70,"a":0.05},{"s":"DSB","t":80,"a":0.05},{"s":"DSB","t":101,"a":0},
{"s":"HRV","t":0,"a":0},{"s":"HRV","t":15,"a":0},{"s":"HRV","t":30,"a":0.15},{"s":"HRV","t":36,"a":0.4},{"s":"HRV","t":41.2,"a":0.67},{"s":"HRV","t":47,"a":-0.2},{"s":"HRV","t":56.5,"a":-1.0},{"s":"HRV","t":63,"a":-0.6},{"s":"HRV","t":70,"a":0},{"s":"HRV","t":80,"a":0.3},{"s":"HRV","t":90,"a":0.33},{"s":"HRV","t":101,"a":0.33},
{"s":"MTE","t":0,"a":0},{"s":"MTE","t":15,"a":0},{"s":"MTE","t":28,"a":0},{"s":"MTE","t":35,"a":0.4},{"s":"MTE","t":43.3,"a":1.1},{"s":"MTE","t":49,"a":-0.3},{"s":"MTE","t":55.5,"a":-1.07},{"s":"MTE","t":62,"a":-0.6},{"s":"MTE","t":70,"a":-0.1},{"s":"MTE","t":80,"a":0},{"s":"MTE","t":101,"a":0.1},
{"s":"SJG","t":0,"a":0},{"s":"SJG","t":15,"a":0},{"s":"SJG","t":28,"a":-0.2},{"s":"SJG","t":33,"a":0},{"s":"SJG","t":37,"a":1.2},{"s":"SJG","t":41.2,"a":2.0},{"s":"SJG","t":46,"a":0.6},{"s":"SJG","t":50,"a":-0.6},{"s":"SJG","t":54.5,"a":-1.17},{"s":"SJG","t":62,"a":-0.7},{"s":"SJG","t":72,"a":-0.2},{"s":"SJG","t":82,"a":0.3},{"s":"SJG","t":90,"a":0.4},{"s":"SJG","t":101,"a":0.33},
{"s":"NNA","t":0,"a":0},{"s":"NNA","t":12,"a":0},{"s":"NNA","t":20,"a":0},{"s":"NNA","t":25,"a":-0.5},{"s":"NNA","t":29.4,"a":-1.67},{"s":"NNA","t":33,"a":-0.6},{"s":"NNA","t":37,"a":1.0},{"s":"NNA","t":42.5,"a":2.4},{"s":"NNA","t":47,"a":1.4},{"s":"NNA","t":52,"a":0.3},{"s":"NNA","t":58,"a":0},{"s":"NNA","t":101,"a":0},
{"s":"LVC","t":0,"a":0},{"s":"LVC","t":12,"a":0},{"s":"LVC","t":20,"a":0},{"s":"LVC","t":26,"a":-0.8},{"s":"LVC","t":31,"a":-2.57},{"s":"LVC","t":34,"a":-1.3},{"s":"LVC","t":38,"a":0.9},{"s":"LVC","t":41.8,"a":2.43},{"s":"LVC","t":46,"a":1.3},{"s":"LVC","t":52,"a":0},{"s":"LVC","t":58,"a":-0.2},{"s":"LVC","t":101,"a":-0.17},
{"s":"PLCA","t":0,"a":0},{"s":"PLCA","t":12,"a":0.05},{"s":"PLCA","t":20,"a":0},{"s":"PLCA","t":25,"a":-0.5},{"s":"PLCA","t":30,"a":-1.5},{"s":"PLCA","t":34,"a":-0.5},{"s":"PLCA","t":38,"a":1.0},{"s":"PLCA","t":43,"a":2.17},{"s":"PLCA","t":48,"a":1.2},{"s":"PLCA","t":53,"a":0.2},{"s":"PLCA","t":58,"a":0},{"s":"PLCA","t":101,"a":0}
],
"aLl":[{"s":"TIXI"},{"s":"COLA"},{"s":"BILL"},{"s":"COR"},{"s":"PET"},{"s":"YSS"},{"s":"ADK"},{"s":"WAKE"},{"s":"POHA"},{"s":"KWAJ"},{"s":"PTCN"},{"s":"RPN"}],
"aRl":[{"s":"FFC"},{"s":"KEV"},{"s":"SFJ"},{"s":"RUE"},{"s":"HRV"},{"s":"CART"},{"s":"SJG"},{"s":"RCBR"},{"s":"LPAZ"},{"s":"CPUP"},{"s":"NNA"},{"s":"TRQA"},{"s":"EFI"},{"s":"PMSA"}],
"bLl":[{"s":"YKW1"},{"s":"TIXI"},{"s":"COLA"},{"s":"BILL"},{"s":"MA2"},{"s":"ADK"},{"s":"KIP"},{"s":"PTCN"}],
"bRl":[{"s":"FFC"},{"s":"DSB"},{"s":"HRV"},{"s":"MTE"},{"s":"SJG"},{"s":"NNA"},{"s":"LVC"},{"s":"PLCA"}],
"aLb":[{"s":"bar","g":1,"i":0,"t":6.2,"a":2.02},{"s":"bar","g":1,"i":1,"t":0,"a":2.02},{"s":"bar","g":1,"i":2,"t":0,"a":-1.48},{"s":"bar","g":2,"i":0,"t":0,"a":-0.24},{"s":"bar","g":2,"i":1,"t":100,"a":-0.24},{"s":"bar","g":3,"i":0,"t":50,"a":-0.24},{"s":"bar","g":3,"i":1,"t":50,"a":-1.48},{"s":"bar","g":4,"i":0,"t":100,"a":-0.24},{"s":"bar","g":4,"i":1,"t":100,"a":-1.48}],
"aLk":[{"s":"bar","t":0,"a":-2.98,"txt":"0"},{"s":"bar","t":50,"a":-2.98,"txt":"50"},{"s":"bar","t":100,"a":-2.98,"txt":"100"}],
"aLx":[{"s":"bar","t":50,"a":-4.91,"txt":"time (s)"}],
"aLt":[{"s":"bar","t":9.2,"a":3.52,"txt":"TIXI: 92.9"}],
"bLb":[{"s":"bar","g":1,"i":0,"t":5.6,"a":3.11},{"s":"bar","g":1,"i":1,"t":0,"a":3.11},{"s":"bar","g":1,"i":2,"t":0,"a":-0.89},{"s":"bar","g":2,"i":0,"t":0,"a":0.51},{"s":"bar","g":2,"i":1,"t":100,"a":0.51},{"s":"bar","g":3,"i":0,"t":50,"a":0.51},{"s":"bar","g":3,"i":1,"t":50,"a":-0.89},{"s":"bar","g":4,"i":0,"t":100,"a":0.51},{"s":"bar","g":4,"i":1,"t":100,"a":-0.89}],
"bLk":[{"s":"bar","t":0,"a":-2.12,"txt":"0"},{"s":"bar","t":50,"a":-2.12,"txt":"50"},{"s":"bar","t":100,"a":-2.12,"txt":"100"}],
"bLx":[{"s":"bar","t":50,"a":-4.29,"txt":"time (s)"}],
"bLt":[{"s":"bar","t":6.8,"a":3.48,"txt":"LVC: 281.5"}],
"aSt":[
{"s":"TIXI","u":-0.063,"v":0.254,"eu":-1.713,"ev":1.743},{"s":"COLA","u":-0.146,"v":0.287,"eu":-1.713,"ev":1.402},{"s":"BILL","u":-0.146,"v":0.363,"eu":-1.713,"ev":1.061},{"s":"COR","u":-0.228,"v":0.429,"eu":-1.713,"ev":0.719},{"s":"PET","u":-0.178,"v":0.23,"eu":-1.713,"ev":0.378},{"s":"YSS","u":-0.146,"v":0.181,"eu":-1.713,"ev":0.037},{"s":"ADK","u":-0.245,"v":0.254,"eu":-1.713,"ev":-0.304},{"s":"WAKE","u":-0.426,"v":0.056,"eu":-1.713,"ev":-0.646},{"s":"POHA","u":-0.26,"v":0.076,"eu":-1.713,"ev":-0.986},{"s":"KWAJ","u":-0.25,"v":0.017,"eu":-1.713,"ev":-1.327},{"s":"PTCN","u":-0.211,"v":-0.363,"eu":-1.713,"ev":-1.668},{"s":"RPN","u":-0.047,"v":-0.446,"eu":-1.713,"ev":-2.01},
{"s":"FFC","u":0.02,"v":0.452,"eu":1.72,"ev":1.7},{"s":"KEV","u":0.317,"v":0.33,"eu":1.72,"ev":1.359},{"s":"SFJ","u":0.069,"v":0.231,"eu":1.72,"ev":1.02},{"s":"RUE","u":0.136,"v":0.221,"eu":1.72,"ev":0.679},{"s":"HRV","u":0.136,"v":0.33,"eu":1.72,"ev":0.339},{"s":"CART","u":0.201,"v":0.132,"eu":1.72,"ev":-0.001},{"s":"SJG","u":0.475,"v":0.033,"eu":1.72,"ev":-0.342},{"s":"RCBR","u":0.317,"v":0.0,"eu":1.72,"ev":-0.681},{"s":"LPAZ","u":0.317,"v":-0.25,"eu":1.72,"ev":-1.361},{"s":"CPUP","u":0.267,"v":-0.2,"eu":1.72,"ev":-1.702},{"s":"NNA","u":0.201,"v":-0.21,"eu":1.72,"ev":-2.042},{"s":"TRQA","u":0.16,"v":-0.205,"eu":1.72,"ev":-2.382},{"s":"EFI","u":0.112,"v":-0.2,"eu":1.72,"ev":-2.722},{"s":"PMSA","u":0.069,"v":-0.2,"eu":1.72,"ev":-3.063}
],
"bSt":[
{"s":"YKW1","u":-0.058,"v":0.445,"eu":-1.692,"ev":0.39},{"s":"TIXI","u":-0.149,"v":0.396,"eu":-1.692,"ev":0.053},{"s":"COLA","u":-0.171,"v":0.283,"eu":-1.692,"ev":-0.285},{"s":"BILL","u":-0.123,"v":0.299,"eu":-1.692,"ev":-0.623},{"s":"MA2","u":-0.075,"v":0.283,"eu":-1.692,"ev":-0.96},{"s":"ADK","u":-0.252,"v":0.299,"eu":-1.692,"ev":-1.298},{"s":"KIP","u":-0.43,"v":0.089,"eu":-1.692,"ev":-1.635},{"s":"PTCN","u":-0.23,"v":-0.381,"eu":-1.692,"ev":-1.973},
{"s":"FFC","u":0.022,"v":0.478,"eu":1.706,"ev":1.691},{"s":"DSB","u":0.314,"v":0.348,"eu":1.706,"ev":1.36},{"s":"HRV","u":0.28,"v":0.32,"eu":1.706,"ev":1.03},{"s":"MTE","u":0.217,"v":0.202,"eu":1.706,"ev":0.699},{"s":"SJG","u":0.482,"v":0.04,"eu":1.706,"ev":0.203},{"s":"NNA","u":0.324,"v":-0.364,"eu":1.706,"ev":-1.45},{"s":"LVC","u":0.282,"v":-0.338,"eu":1.706,"ev":-1.78},{"s":"PLCA","u":0.158,"v":-0.338,"eu":1.706,"ev":-2.112}
],
"aSq":[{"u":-0.146,"v":0.264},{"u":0.136,"v":0.215}],
"bSq":[{"u":0.217,"v":0.235},{"u":-0.2,"v":0.3}],
"aNp":[
{"c":1,"i":0,"u":-0.904,"v":0.363},{"c":1,"i":1,"u":-0.76,"v":0.53},{"c":1,"i":2,"u":-0.542,"v":0.685},{"c":1,"i":3,"u":-0.277,"v":0.759},{"c":1,"i":4,"u":0.003,"v":0.782},{"c":1,"i":5,"u":0.284,"v":0.759},{"c":1,"i":6,"u":0.581,"v":0.644},{"c":1,"i":7,"u":0.812,"v":0.413},{"c":1,"i":8,"u":0.928,"v":0.116},{"c":1,"i":9,"u":0.955,"v":-0.2},{"c":1,"i":10,"u":0.921,"v":-0.39},
{"c":2,"i":0,"u":-0.904,"v":0.363},{"c":2,"i":1,"u":-0.607,"v":0.181},{"c":2,"i":2,"u":-0.31,"v":0.017},{"c":2,"i":3,"u":-0.013,"v":-0.149},{"c":2,"i":4,"u":0.284,"v":-0.28},{"c":2,"i":5,"u":0.614,"v":-0.363},{"c":2,"i":6,"u":0.921,"v":-0.39}
],
"bNp":[
{"c":1,"i":0,"u":-0.916,"v":0.429},{"c":1,"i":1,"u":-0.77,"v":0.542},{"c":1,"i":2,"u":-0.512,"v":0.597},{"c":1,"i":3,"u":-0.187,"v":0.607},{"c":1,"i":4,"u":0.071,"v":0.623},{"c":1,"i":5,"u":0.233,"v":0.687},{"c":1,"i":6,"u":0.298,"v":0.817},{"c":1,"i":7,"u":0.362,"v":0.93},
{"c":2,"i":0,"u":-0.382,"v":-0.924},{"c":2,"i":1,"u":-0.252,"v":-0.478},{"c":2,"i":2,"u":-0.09,"v":-0.121},{"c":2,"i":3,"u":0.039,"v":0.073},{"c":2,"i":4,"u":0.136,"v":0.202},{"c":2,"i":5,"u":0.184,"v":0.267},{"c":2,"i":6,"u":0.25,"v":0.325},{"c":2,"i":7,"u":0.35,"v":0.345},{"c":2,"i":8,"u":0.459,"v":0.316},{"c":2,"i":9,"u":0.653,"v":0.202},{"c":2,"i":10,"u":0.816,"v":-0.024},{"c":2,"i":11,"u":0.93,"v":-0.36}
],
"stf":[
{"t":0,"md":0,"mo":0},{"t":2.5,"md":0.1,"mo":0.1},{"t":5,"md":0.2,"mo":0.33},{"t":7.5,"md":0.4,"mo":0.75},{"t":10,"md":0.29,"mo":1.02},{"t":12.5,"md":0.125,"mo":1.12},{"t":15,"md":0.1,"mo":1.22},{"t":17.5,"md":0.077,"mo":1.3},{"t":20,"md":0,"mo":1.3}
],
"stfx":[{"t":0,"lab":"0"},{"t":10,"lab":"10"},{"t":20,"lab":"20"}],
"one":[{}]
},
"layer":[
{"layer":[
 {"data":{"name":"aLo"},"mark":{"type":"line","color":"#111111","strokeWidth":1.6,"interpolate":"monotone"},
  "encoding":{"x":{"field":"t","type":"quantitative","scale":{"domain":[0,100],"range":[66.5,235.5],"nice":false,"zero":false},"axis":null},
   "y":{"field":"s","type":"nominal","scale":{"type":"point","domain":["TIXI","COLA","BILL","COR","PET","YSS","ADK","WAKE","POHA","KWAJ","PTCN","RPN","gap","bar"],"range":[49,496.9],"padding":0},"axis":null},
   "yOffset":{"field":"a","type":"quantitative","scale":{"domain":[-10,10],"range":[100,-100]}},
   "detail":{"field":"s"},"order":{"field":"t"}}},
 {"data":{"name":"aLs"},"mark":{"type":"line","color":"#ff1f1f","strokeWidth":1.6,"strokeDash":[1.6,1.6],"interpolate":"monotone"},
  "encoding":{"x":{"field":"t","type":"quantitative","axis":null},"y":{"field":"s","type":"nominal","axis":null},
   "yOffset":{"field":"a","type":"quantitative","scale":{"domain":[-10,10],"range":[100,-100]}},"detail":{"field":"s"},"order":{"field":"t"}}},
 {"data":{"name":"aLl"},"mark":{"type":"text","align":"right","baseline":"middle","dy":-4,"font":"Liberation Sans","fontSize":12.5,"color":"#222222"},
  "encoding":{"x":{"datum":-7.7,"type":"quantitative","axis":null},"y":{"field":"s","type":"nominal","axis":null},"text":{"field":"s"}}},
 {"data":{"name":"aLb"},"mark":{"type":"line","color":"#26268c","strokeWidth":2},
  "encoding":{"x":{"field":"t","type":"quantitative","axis":null},"y":{"field":"s","type":"nominal","axis":null},
   "yOffset":{"field":"a","type":"quantitative","scale":{"domain":[-10,10],"range":[100,-100]}},"detail":{"field":"g"},"order":{"field":"i"}}},
 {"data":{"name":"aLk"},"mark":{"type":"text","align":"center","baseline":"middle","font":"Liberation Sans","fontSize":15,"color":"#222222"},
  "encoding":{"x":{"field":"t","type":"quantitative","axis":null},"y":{"field":"s","type":"nominal","axis":null},
   "yOffset":{"field":"a","type":"quantitative","scale":{"domain":[-10,10],"range":[100,-100]}},"text":{"field":"txt"}}},
 {"data":{"name":"aLx"},"mark":{"type":"text","align":"center","baseline":"middle","font":"Liberation Sans","fontSize":12,"color":"#222222"},
  "encoding":{"x":{"field":"t","type":"quantitative","axis":null},"y":{"field":"s","type":"nominal","axis":null},
   "yOffset":{"field":"a","type":"quantitative","scale":{"domain":[-10,10],"range":[100,-100]}},"text":{"field":"txt"}}},
 {"data":{"name":"aLt"},"mark":{"type":"text","align":"left","baseline":"middle","font":"Liberation Serif","fontStyle":"italic","fontSize":18,"color":"#333333"},
  "encoding":{"x":{"field":"t","type":"quantitative","axis":null},"y":{"field":"s","type":"nominal","axis":null},
   "yOffset":{"field":"a","type":"quantitative","scale":{"domain":[-10,10],"range":[100,-100]}},"text":{"field":"txt"}}}
]},
{"layer":[
 {"data":{"name":"aRo"},"mark":{"type":"line","color":"#111111","strokeWidth":1.6,"interpolate":"monotone"},
  "encoding":{"x":{"field":"t","type":"quantitative","scale":{"domain":[0,100],"range":[620,790],"nice":false,"zero":false},"axis":null},
   "y":{"field":"s","type":"nominal","scale":{"type":"point","domain":["FFC","KEV","SFJ","RUE","HRV","CART","SJG","RCBR","gap","LPAZ","CPUP","NNA","TRQA","EFI","PMSA"],"range":[53.3,534.3],"padding":0},"axis":null},
   "yOffset":{"field":"a","type":"quantitative","scale":{"domain":[-10,10],"range":[100,-100]}},
   "detail":{"field":"s"},"order":{"field":"t"}}},
 {"data":{"name":"aRs"},"mark":{"type":"line","color":"#ff1f1f","strokeWidth":1.6,"strokeDash":[1.6,1.6],"interpolate":"monotone"},
  "encoding":{"x":{"field":"t","type":"quantitative","axis":null},"y":{"field":"s","type":"nominal","axis":null},
   "yOffset":{"field":"a","type":"quantitative","scale":{"domain":[-10,10],"range":[100,-100]}},"detail":{"field":"s"},"order":{"field":"t"}}},
 {"data":{"name":"aRl"},"mark":{"type":"text","align":"left","baseline":"middle","dy":-4,"font":"Liberation Sans","fontSize":12.5,"color":"#222222"},
  "encoding":{"x":{"datum":111.4,"type":"quantitative","axis":null},"y":{"field":"s","type":"nominal","axis":null},"text":{"field":"s"}}}
]},
{"layer":[
 {"data":{"name":"bLo"},"mark":{"type":"line","color":"#111111","strokeWidth":1.6,"interpolate":"monotone"},
  "encoding":{"x":{"field":"t","type":"quantitative","scale":{"domain":[0,100],"range":[66.5,235.5],"nice":false,"zero":false},"axis":null},
   "y":{"field":"s","type":"nominal","scale":{"type":"point","domain":["bar","gap","YKW1","TIXI","COLA","BILL","MA2","ADK","KIP","PTCN"],"range":[717.8,1030.7],"padding":0},"axis":null},
   "yOffset":{"field":"a","type":"quantitative","scale":{"domain":[-10,10],"range":[100,-100]}},
   "detail":{"field":"s"},"order":{"field":"t"}}},
 {"data":{"name":"bLs"},"mark":{"type":"line","color":"#ff1f1f","strokeWidth":1.6,"strokeDash":[1.6,1.6],"interpolate":"monotone"},
  "encoding":{"x":{"field":"t","type":"quantitative","axis":null},"y":{"field":"s","type":"nominal","axis":null},
   "yOffset":{"field":"a","type":"quantitative","scale":{"domain":[-10,10],"range":[100,-100]}},"detail":{"field":"s"},"order":{"field":"t"}}},
 {"data":{"name":"bLl"},"mark":{"type":"text","align":"right","baseline":"middle","dy":-4,"font":"Liberation Sans","fontSize":12.5,"color":"#222222"},
  "encoding":{"x":{"datum":-10.9,"type":"quantitative","axis":null},"y":{"field":"s","type":"nominal","axis":null},"text":{"field":"s"}}},
 {"data":{"name":"bLb"},"mark":{"type":"line","color":"#26268c","strokeWidth":2},
  "encoding":{"x":{"field":"t","type":"quantitative","axis":null},"y":{"field":"s","type":"nominal","axis":null},
   "yOffset":{"field":"a","type":"quantitative","scale":{"domain":[-10,10],"range":[100,-100]}},"detail":{"field":"g"},"order":{"field":"i"}}},
 {"data":{"name":"bLk"},"mark":{"type":"text","align":"center","baseline":"middle","font":"Liberation Sans","fontSize":15,"color":"#222222"},
  "encoding":{"x":{"field":"t","type":"quantitative","axis":null},"y":{"field":"s","type":"nominal","axis":null},
   "yOffset":{"field":"a","type":"quantitative","scale":{"domain":[-10,10],"range":[100,-100]}},"text":{"field":"txt"}}},
 {"data":{"name":"bLx"},"mark":{"type":"text","align":"center","baseline":"middle","font":"Liberation Sans","fontSize":12,"color":"#222222"},
  "encoding":{"x":{"field":"t","type":"quantitative","axis":null},"y":{"field":"s","type":"nominal","axis":null},
   "yOffset":{"field":"a","type":"quantitative","scale":{"domain":[-10,10],"range":[100,-100]}},"text":{"field":"txt"}}},
 {"data":{"name":"bLt"},"mark":{"type":"text","align":"left","baseline":"middle","font":"Liberation Serif","fontStyle":"italic","fontSize":18,"color":"#333333"},
  "encoding":{"x":{"field":"t","type":"quantitative","axis":null},"y":{"field":"s","type":"nominal","axis":null},
   "yOffset":{"field":"a","type":"quantitative","scale":{"domain":[-10,10],"range":[100,-100]}},"text":{"field":"txt"}}}
]},
{"layer":[
 {"data":{"name":"bRo"},"mark":{"type":"line","color":"#111111","strokeWidth":1.6,"interpolate":"monotone"},
  "encoding":{"x":{"field":"t","type":"quantitative","scale":{"domain":[0,100],"range":[620,790],"nice":false,"zero":false},"axis":null},
   "y":{"field":"s","type":"nominal","scale":{"type":"point","domain":["FFC","g1","DSB","g2","HRV","g3","MTE","g4","g5","SJG","g6","g7","g8","g9","g10","g11","g12","g13","g14","NNA","g15","LVC","g16","PLCA"],"range":[653.3,1045],"padding":0},"axis":null},
   "yOffset":{"field":"a","type":"quantitative","scale":{"domain":[-10,10],"range":[100,-100]}},
   "detail":{"field":"s"},"order":{"field":"t"}}},
 {"data":{"name":"bRs"},"mark":{"type":"line","color":"#ff1f1f","strokeWidth":1.6,"strokeDash":[1.6,1.6],"interpolate":"monotone"},
  "encoding":{"x":{"field":"t","type":"quantitative","axis":null},"y":{"field":"s","type":"nominal","axis":null},
   "yOffset":{"field":"a","type":"quantitative","scale":{"domain":[-10,10],"range":[100,-100]}},"detail":{"field":"s"},"order":{"field":"t"}}},
 {"data":{"name":"bRl"},"mark":{"type":"text","align":"left","baseline":"middle","dy":-4,"font":"Liberation Sans","fontSize":12.5,"color":"#222222"},
  "encoding":{"x":{"datum":111.4,"type":"quantitative","axis":null},"y":{"field":"s","type":"nominal","axis":null},"text":{"field":"s"}}}
]},
{"layer":[
 {"data":{"name":"one"},"mark":{"type":"point","shape":"circle","size":32047,"filled":false,"color":"#000000","strokeWidth":1.3,"opacity":1},
  "encoding":{"x":{"datum":0,"type":"quantitative","scale":{"domain":[-1,1],"range":[327,529],"nice":false,"zero":false},"axis":null},
   "y":{"datum":0,"type":"quantitative","scale":{"domain":[-1,1],"range":[326,124],"nice":false,"zero":false},"axis":null}}},
 {"data":{"name":"aNp"},"mark":{"type":"line","color":"#000000","strokeWidth":1.3,"interpolate":"catmull-rom"},
  "encoding":{"x":{"field":"u","type":"quantitative","axis":null},"y":{"field":"v","type":"quantitative","axis":null},"detail":{"field":"c"},"order":{"field":"i"}}},
 {"data":{"name":"one"},"mark":{"type":"rule","color":"#000000","strokeWidth":1.3},
  "encoding":{"x":{"datum":0,"type":"quantitative","axis":null},"y":{"datum":1,"type":"quantitative","axis":null},"y2":{"datum":0.85}}},
 {"data":{"name":"aSt"},"mark":{"type":"rule","color":"#000000","strokeWidth":1.3},
  "encoding":{"x":{"field":"u","type":"quantitative","axis":null},"y":{"field":"v","type":"quantitative","axis":null},"x2":{"field":"eu"},"y2":{"field":"ev"}}},
 {"data":{"name":"aSt"},"mark":{"type":"point","shape":"M-1,0L1,0M0,-1L0,1","size":64,"filled":false,"color":"#000000","strokeWidth":1.4,"opacity":1},
  "encoding":{"x":{"field":"u","type":"quantitative","axis":null},"y":{"field":"v","type":"quantitative","axis":null}}},
 {"data":{"name":"aSq"},"mark":{"type":"point","shape":"square","size":28,"filled":false,"color":"#000000","strokeWidth":1.1,"opacity":1},
  "encoding":{"x":{"field":"u","type":"quantitative","axis":null},"y":{"field":"v","type":"quantitative","axis":null}}},
 {"data":{"name":"one"},"mark":{"type":"point","shape":"M-1,0L1,0M0,-1L0,1","size":36,"filled":false,"color":"#000000","strokeWidth":1.3,"opacity":1},
  "encoding":{"x":{"datum":0.003,"type":"quantitative","axis":null},"y":{"datum":-0.017,"type":"quantitative","axis":null}}},
 {"data":{"name":"one"},"mark":{"type":"point","shape":"diamond","size":28,"filled":true,"color":"#2a8c82","opacity":1},
  "encoding":{"x":{"datum":-0.31,"type":"quantitative","axis":null},"y":{"datum":-0.75,"type":"quantitative","axis":null}}},
 {"data":{"name":"one"},"mark":{"type":"text","align":"left","baseline":"middle","font":"Liberation Sans","fontSize":9,"color":"#222222"},
  "encoding":{"x":{"datum":-0.2,"type":"quantitative","axis":null},"y":{"datum":-0.74,"type":"quantitative","axis":null},"text":{"value":"P"}}},
 {"data":{"name":"one"},"mark":{"type":"text","align":"center","baseline":"middle","font":"Liberation Sans","fontWeight":"bold","fontSize":32,"color":"#14148c"},
  "encoding":{"x":{"datum":0.01,"type":"quantitative","axis":null},"y":{"datum":1.716,"type":"quantitative","axis":null},"text":{"value":"P waves"}}},
 {"data":{"name":"one"},"mark":{"type":"text","align":"left","baseline":"alphabetic","font":"Liberation Sans","fontWeight":"bold","fontSize":25,"color":"#000000"},
  "encoding":{"x":{"datum":-4.139,"type":"quantitative","axis":null},"y":{"datum":1.98,"type":"quantitative","axis":null},"text":{"value":"a"}}}
]},
{"layer":[
 {"data":{"name":"one"},"mark":{"type":"point","shape":"circle","size":33329,"filled":false,"color":"#000000","strokeWidth":1.3,"opacity":1},
  "encoding":{"x":{"datum":0,"type":"quantitative","scale":{"domain":[-1,1],"range":[323,529],"nice":false,"zero":false},"axis":null},
   "y":{"datum":0,"type":"quantitative","scale":{"domain":[-1,1],"range":[930.5,724.5],"nice":false,"zero":false},"axis":null}}},
 {"data":{"name":"bNp"},"mark":{"type":"line","color":"#000000","strokeWidth":1.3,"interpolate":"catmull-rom"},
  "encoding":{"x":{"field":"u","type":"quantitative","axis":null},"y":{"field":"v","type":"quantitative","axis":null},"detail":{"field":"c"},"order":{"field":"i"}}},
 {"data":{"name":"one"},"mark":{"type":"rule","color":"#000000","strokeWidth":1.3},
  "encoding":{"x":{"datum":0,"type":"quantitative","axis":null},"y":{"datum":1,"type":"quantitative","axis":null},"y2":{"datum":0.87}}},
 {"data":{"name":"bSt"},"mark":{"type":"rule","color":"#000000","strokeWidth":1.3},
  "encoding":{"x":{"field":"u","type":"quantitative","axis":null},"y":{"field":"v","type":"quantitative","axis":null},"x2":{"field":"eu"},"y2":{"field":"ev"}}},
 {"data":{"name":"bSt"},"mark":{"type":"point","shape":"M-1,0L1,0M0,-1L0,1","size":64,"filled":false,"color":"#000000","strokeWidth":1.4,"opacity":1},
  "encoding":{"x":{"field":"u","type":"quantitative","axis":null},"y":{"field":"v","type":"quantitative","axis":null}}},
 {"data":{"name":"bSq"},"mark":{"type":"point","shape":"square","size":28,"filled":false,"color":"#000000","strokeWidth":1.1,"opacity":1},
  "encoding":{"x":{"field":"u","type":"quantitative","axis":null},"y":{"field":"v","type":"quantitative","axis":null}}},
 {"data":{"name":"one"},"mark":{"type":"point","shape":"M-1,0L1,0M0,-1L0,1","size":36,"filled":false,"color":"#000000","strokeWidth":1.3,"opacity":1},
  "encoding":{"x":{"datum":-0.01,"type":"quantitative","axis":null},"y":{"datum":0,"type":"quantitative","axis":null}}},
 {"data":{"name":"one"},"mark":{"type":"text","align":"center","baseline":"middle","font":"Liberation Sans","fontWeight":"bold","fontSize":32,"color":"#14148c"},
  "encoding":{"x":{"datum":-0.049,"type":"quantitative","axis":null},"y":{"datum":-1.804,"type":"quantitative","axis":null},"text":{"value":"SH waves"}}},
 {"data":{"name":"one"},"mark":{"type":"text","align":"left","baseline":"alphabetic","font":"Liberation Sans","fontWeight":"bold","fontSize":25,"color":"#000000"},
  "encoding":{"x":{"datum":-4.039,"type":"quantitative","axis":null},"y":{"datum":1.704,"type":"quantitative","axis":null},"text":{"value":"b"}}}
]},
{"layer":[
 {"data":{"name":"stf"},"mark":{"type":"area","color":"#ff0000","opacity":1,"line":{"color":"#000000","strokeWidth":1.2}},
  "encoding":{"x":{"field":"t","type":"quantitative","scale":{"domain":[0,20],"range":[353.3,495],"nice":false,"zero":false},"axis":null},
   "y":{"field":"md","type":"quantitative","scale":{"domain":[0,0.5],"range":[601.7,459],"nice":false,"zero":false},
   "axis":{"orient":"left","offset":-353.3,"values":[0,0.1,0.2,0.3,0.4,0.5],"format":".1f","tickSize":4,"labelFont":"Liberation Sans","labelFontWeight":"bold","labelFontSize":11,"labelColor":"#000000","labelPadding":1,"labelFlush":false,"domainColor":"#000000","tickColor":"#000000","title":"Ṁₒ [10²⁰ N m/s]","titleFont":"Liberation Serif","titleFontSize":19,"titleFontWeight":"bold","titleColor":"#ff0000","titleAngle":270,"titleX":-46,"titleY":531,"titleAlign":"center","titleBaseline":"middle","grid":false}}}},
 {"data":{"name":"stf"},"mark":{"type":"line","color":"#2a8c82","strokeWidth":1.6},
  "encoding":{"x":{"field":"t","type":"quantitative","axis":null},
   "y":{"field":"mo","type":"quantitative","scale":{"domain":[0,1.5],"range":[601.7,459],"nice":false,"zero":false},
   "axis":{"orient":"right","offset":-351,"values":[0,0.5,1,1.5],"format":".1f","tickSize":4,"labelFont":"Liberation Sans","labelFontWeight":"bold","labelFontSize":11,"labelColor":"#000000","labelPadding":2,"labelFlush":false,"domainColor":"#000000","tickColor":"#000000","title":"Mₒ [10²⁰ N m]","titleFont":"Liberation Serif","titleFontSize":19,"titleFontWeight":"bold","titleColor":"#2a8c82","titleAngle":270,"titleX":45,"titleY":524,"titleAlign":"center","titleBaseline":"middle","grid":false}}}},
 {"data":{"name":"one"},"mark":{"type":"rule","color":"#000000","strokeWidth":1},
  "encoding":{"x":{"datum":0,"type":"quantitative","axis":null},"x2":{"datum":20},
   "y":{"datum":0,"type":"quantitative","scale":{"domain":[0,0.5],"range":[601.7,459],"nice":false,"zero":false},"axis":null}}},
 {"data":{"name":"stfx"},"mark":{"type":"rule","color":"#000000","strokeWidth":1},
  "encoding":{"x":{"field":"t","type":"quantitative","axis":null},
   "y":{"datum":0,"type":"quantitative","scale":{"domain":[0,0.5],"range":[601.7,459],"nice":false,"zero":false},"axis":null},"y2":{"datum":-0.014}}},
 {"data":{"name":"stfx"},"mark":{"type":"text","align":"center","baseline":"middle","font":"Liberation Sans","fontWeight":"bold","fontSize":11,"color":"#000000"},
  "encoding":{"x":{"field":"t","type":"quantitative","axis":null},
   "y":{"datum":-0.0466,"type":"quantitative","scale":{"domain":[0,0.5],"range":[601.7,459],"nice":false,"zero":false},"axis":null},"text":{"field":"lab"}}},
 {"data":{"name":"one"},"mark":{"type":"text","align":"center","baseline":"middle","font":"Liberation Serif","fontSize":21,"color":"#000000"},
  "encoding":{"x":{"datum":10,"type":"quantitative","axis":null},
   "y":{"datum":-0.113,"type":"quantitative","scale":{"domain":[0,0.5],"range":[601.7,459],"nice":false,"zero":false},"axis":null},"text":{"value":"Time (s)"}}}
],"resolve":{"scale":{"y":"independent"},"axis":{"y":"independent"}}}
],
"resolve":{"scale":{"x":"independent","y":"independent"},"axis":{"x":"independent","y":"independent"}}
}
